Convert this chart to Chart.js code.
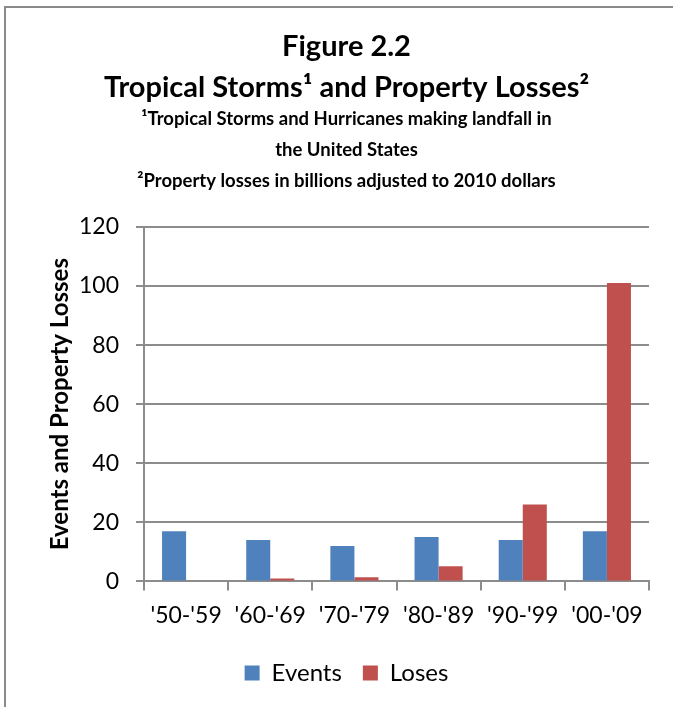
<!DOCTYPE html>
<html>
<head>
<meta charset="utf-8">
<script src="https://cdn.jsdelivr.net/npm/chart.js@4.4.0/dist/chart.umd.min.js"></script>
<style>
  body { margin: 0; background: #fff; }
  #wrap { position: relative; width: 673px; height: 707px; overflow: hidden; }
  #frame { position: absolute; left: 4px; top: 6px; width: 700px; height: 720px;
           border-left: 2px solid #8a8a8a; border-top: 2px solid #8a8a8a; }
  #stormChart { position: absolute; left: 0; top: 0; }
</style>
</head>
<body>
<div id="wrap">
  <div id="frame"></div>
  <canvas id="stormChart" width="673" height="707"></canvas>
</div>
<script>
const decades = ["'50-'59", "'60-'69", "'70-'79", "'80-'89", "'90-'99", "'00-'09"];
const events = [17, 14, 12, 15, 14, 17];
const losses = [0.3, 1, 1.4, 5.1, 26, 101];
const yTicks = [0, 20, 40, 60, 80, 100, 120];

const gridGray = '#8c8c8c';
const fontFamily = 'Lato, "Open Sans", sans-serif';

const ctx = document.getElementById('stormChart').getContext('2d');
const stormChart = new Chart(ctx, {
    type: 'bar',
    data: {
        labels: decades,
        datasets: [{
            label: 'Events',
            data: events,
            backgroundColor: '#4F81BD'
        }, {
            label: 'Loses',
            data: losses,
            backgroundColor: '#C0504D'
        }]
    },
    options: {
        responsive: false,
        animation: false,
        categoryPercentage: 2 / 3.5,
        barPercentage: 1,
        layout: {
            padding: { left: 44, right: 24, top: 0, bottom: 12 }
        },
        plugins: {
            title: {
                display: true,
                text: ['Figure 2.2', 'Tropical Storms\u00b9 and Property Losses\u00b2'],
                color: '#000',
                font: { family: fontFamily, size: 29, weight: 'bold', lineHeight: 41 / 29 },
                padding: { top: 26.5, bottom: 0 }
            },
            subtitle: {
                display: true,
                text: ['\u00b9Tropical Storms and Hurricanes making landfall in',
                       'the United States',
                       '\u00b2Property losses in billions adjusted to 2010 dollars'],
                color: '#000',
                font: { family: fontFamily, size: 18.5, weight: 'bold', lineHeight: 31 / 18.5 },
                padding: { top: -5, bottom: 30.5 }
            },
            legend: {
                position: 'bottom',
                labels: {
                    color: '#000',
                    boxWidth: 15,
                    boxHeight: 15,
                    padding: 21,
                    font: { family: fontFamily, size: 24 }
                }
            },
            tooltip: { enabled: false }
        },
        scales: {
            x: {
                offset: true,
                grid: {
                    offset: true,
                    drawOnChartArea: false,
                    color: gridGray,
                    lineWidth: 2,
                    tickLength: 9
                },
                border: { color: gridGray, width: 2 },
                ticks: {
                    color: '#000',
                    padding: 11,
                    font: { family: fontFamily, size: 23 }
                }
            },
            y: {
                min: yTicks[0],
                max: yTicks[yTicks.length - 1],
                afterBuildTicks: function (scale) {
                    scale.ticks = yTicks.map(v => ({ value: v }));
                },
                afterFit: function (scale) {
                    scale.width = 100;
                },
                grid: {
                    color: gridGray,
                    lineWidth: 2,
                    tickLength: 8
                },
                border: { color: gridGray, width: 2 },
                ticks: {
                    color: '#000',
                    padding: 17,
                    font: { family: fontFamily, size: 23 }
                },
                title: {
                    display: true,
                    text: 'Events and Property Losses',
                    color: '#000',
                    padding: { top: 2, bottom: 0 },
                    font: { family: fontFamily, size: 24, weight: 'bold' }
                }
            }
        }
    }
});
</script>
</body>
</html>
